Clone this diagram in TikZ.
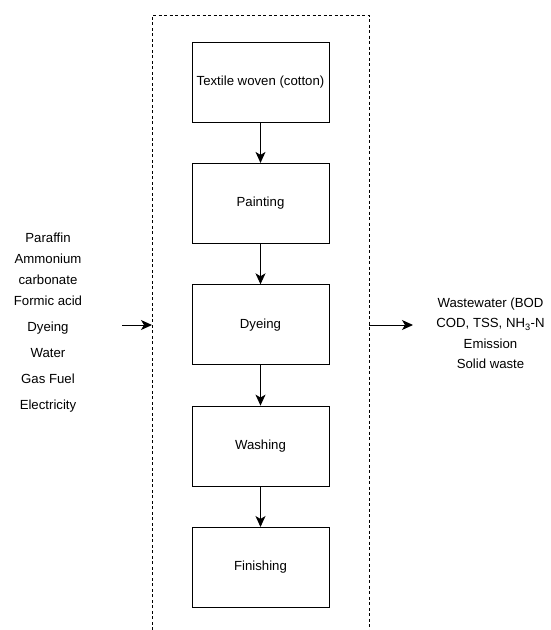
\documentclass[tikz,border=0pt]{standalone}
\usepackage{fontspec}
\setmainfont{Liberation Sans}
\usetikzlibrary{arrows.meta}

\begin{document}
\begin{tikzpicture}[x=1pt, y=-1pt,
  stage/.style={draw, line width=1pt, minimum width=137pt, minimum height=80pt,
    inner sep=1pt, font=\fontsize{13.2}{15}\selectfont},
  flow/.style={-{Stealth[length=11pt, width=10pt, inset=3pt]}, line width=1pt},
  boundary/.style={dashed, dash pattern=on 3pt off 2.5pt, line width=0.9pt},
  list/.style={align=center, inner sep=0pt, font=\fontsize{13.2}{21}\selectfont}]

\useasboundingbox (0,0) rectangle (550,630);

% ======================
% System boundary
% ======================
\coordinate (bl) at (152,630);
\coordinate (tl) at (152,15);
\coordinate (tr) at (369,15);
\coordinate (br) at (369,630);
\draw[boundary] (bl) -- (tl) -- (tr) -- (br);

% ======================
% Process stages
% ======================
\node[stage] (textile)   at (260.5,82)    {Textile woven (cotton)};
\node[stage] (painting)  at (260.5,203.4) {Painting};
\node[stage] (dyeing)    at (260.5,324.8) {Dyeing};
\node[stage] (washing)   at (260.5,446.1) {Washing};
\node[stage] (finishing) at (260.5,567.5) {Finishing};

\draw[flow] (textile) -- (painting);
\draw[flow] (painting) -- (dyeing);
\draw[flow] (dyeing) -- (washing);
\draw[flow] (washing) -- (finishing);

% ======================
% Inputs
% ======================
\node[list] (inputs) at (48,323)
{Paraffin\\Ammonium\\carbonate\\Formic acid\\[5pt]Dyeing\\[5pt]Water\\[5pt]Gas Fuel\\[5pt]Electricity};
\coordinate (instart) at (122,325);
\coordinate (inend) at (152,325);
\draw[flow] (instart) -- (inend);

% ======================
% Outputs
% ======================
\node[list, font=\fontsize{13.2}{20.5}\selectfont] (outputs) at (490.5,333.5)
{Wastewater (BOD\\COD, TSS, NH\textsubscript{3}-N\\Emission\\Solid waste};
\coordinate (outstart) at (369,325);
\coordinate (outend) at (413,325);
\draw[flow] (outstart) -- (outend);

\end{tikzpicture}
\end{document}
